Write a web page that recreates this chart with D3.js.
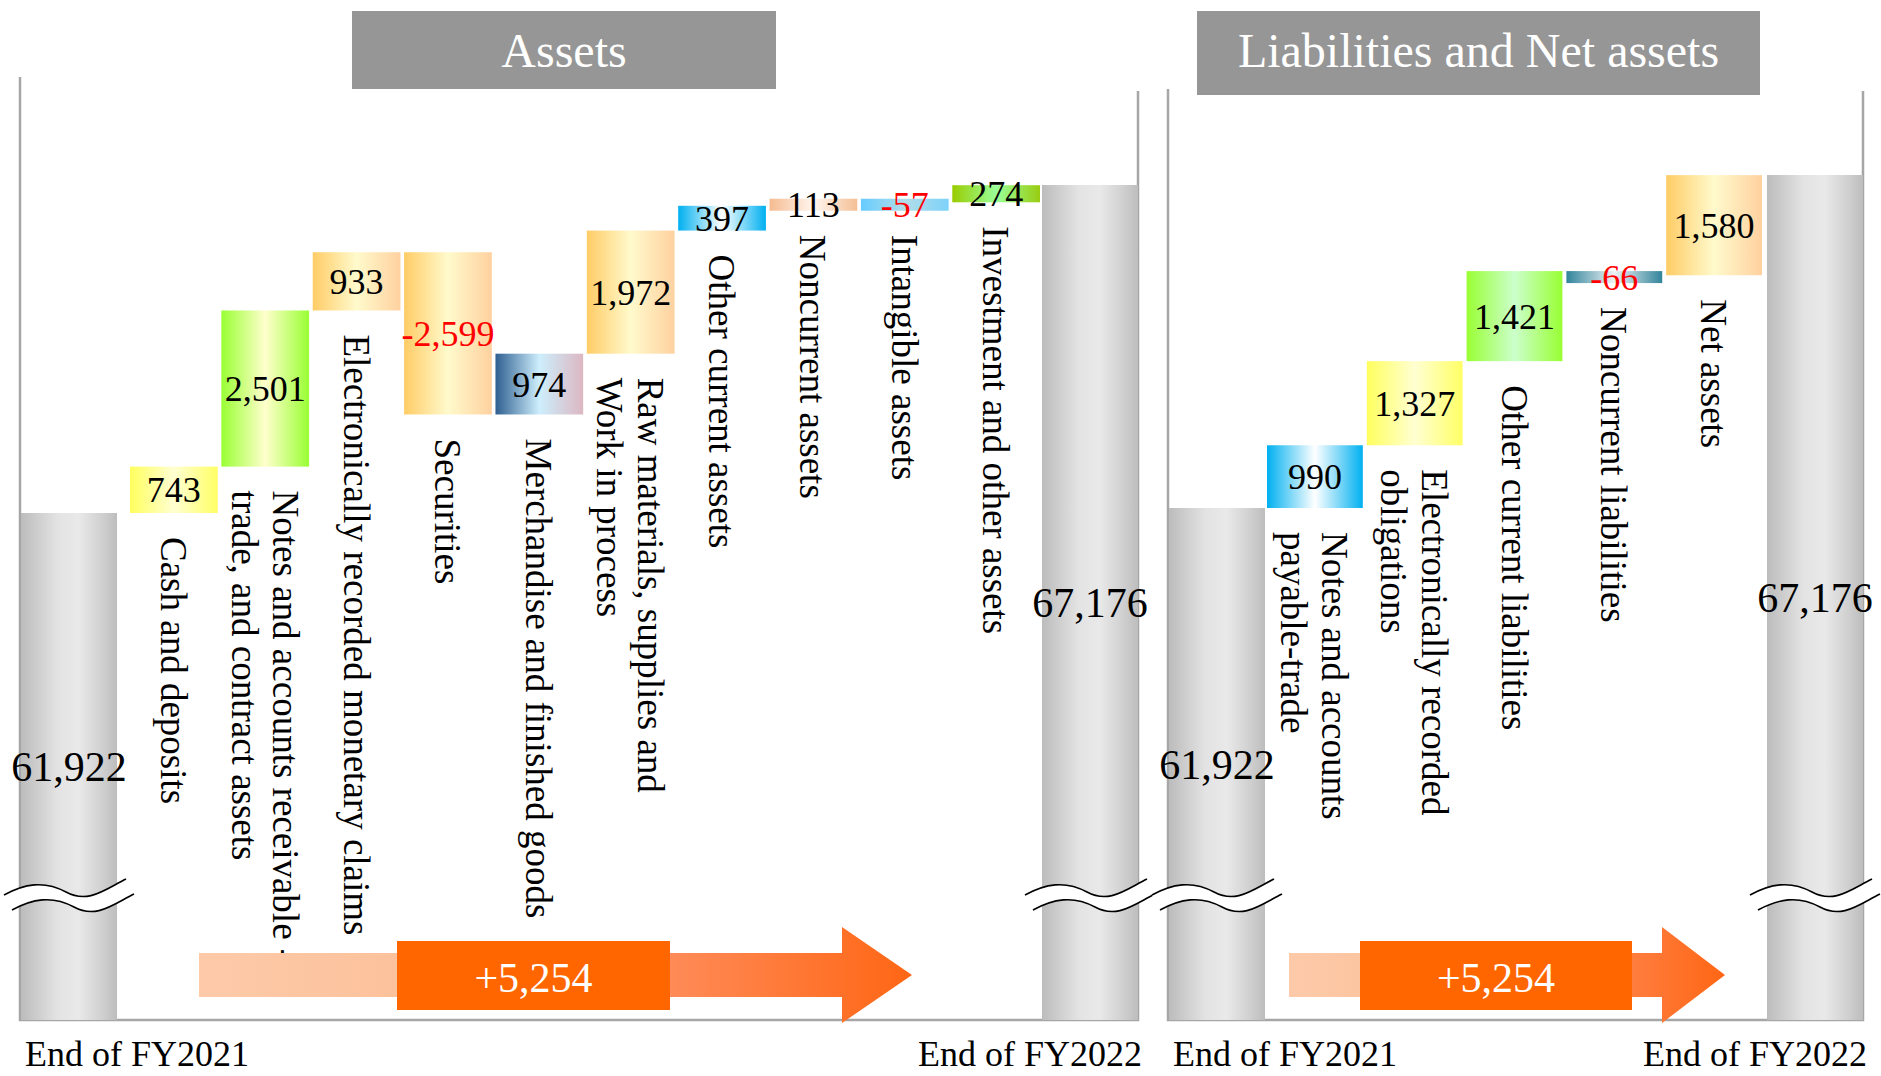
<!DOCTYPE html>
<html>
<head>
<meta charset="utf-8">
<script src="https://cdn.jsdelivr.net/npm/d3@7"></script>
<style>
  body { margin: 0; background: #fff; }
  svg { display: block; }
  text { font-family: "Liberation Serif", "Times New Roman", serif; }
</style>
</head>
<body>
<svg id="chart"></svg>
<script>
// ---- data (million yen) ----
const totals = [61922, 67176];
const totalChange = 5254;
const periodLabels = ["End of FY2021", "End of FY2022"];
const panelTitles = ["Assets", "Liabilities and Net assets"];

const assetLabels = [
  ["Cash and deposits"],
  ["Notes and accounts receivable -", "trade, and contract assets"],
  ["Electronically recorded monetary claims"],
  ["Securities"],
  ["Merchandise and finished goods"],
  ["Raw materials, supplies and", "Work in process"],
  ["Other current assets"],
  ["Noncurrent assets"],
  ["Intangible assets"],
  ["Investment and other assets"]
];
const assetChanges = [743, 2501, 933, -2599, 974, 1972, 397, 113, -57, 274];

const liabilityLabels = [
  ["Notes and accounts", "payable-trade"],
  ["Electronically recorded", "obligations"],
  ["Other current liabilities"],
  ["Noncurrent liabilities"],
  ["Net assets"]
];
const liabilityChanges = [990, 1327, 1421, -66, 1580];

// colour themes for the bars (horizontal gradients)
const palettes = {
  yellow: ["#ffff5e", "#ffffd2", "#ffff66"],
  green: ["#99ff33", "#ffffcc", "#99ff33"],
  gold: ["#ffcc66", "#fffacc", "#ffd19f"],
  navy: ["#2f5f91", "#cdeefc", "#dcb7c2"],
  cyan: ["#00b0f0", "#ffffff", "#00b0f0"],
  peach: ["#f5bb90", "#fff6f0", "#f5bf95"],
  sky: ["#66ccff", "#b2dde8", "#7dd2fa"],
  lime: ["#99cc00", "#99ff99", "#99cc11"],
  mint: ["#99ff33", "#ccffcc", "#99ff33"],
  teal: ["#31849b", "#eef3f5", "#31849b"]
};
const assetColors = ["yellow", "green", "gold", "gold", "navy", "gold", "cyan", "peach", "sky", "lime"];
const liabilityColors = ["cyan", "yellow", "mint", "teal", "gold"];

// ---- layout ----
const width = 1881, height = 1076;
const baseY = 1020;      // bottom frame line (broken axis)
const breakY = 898;
const totalW = 96;
const minBarH = 12;

const fmt = (v) => d3.format(',')(v).replace('\u2212', '-');

const panels = [
  {
    title: panelTitles[0], labels: assetLabels, changes: assetChanges, colors: assetColors,
    left: 20, right: 1138, leftTop: 77, rightTop: 91,
    band: [130, 1040], yRange: [513, 185],
    titleBox: { x0: 352, x1: 776, y0: 11, y1: 89 },
    arrow: { x0: 199, x1: 912, head: 70, box0: 397, box1: 670 }
  },
  {
    title: panelTitles[1], labels: liabilityLabels, changes: liabilityChanges, colors: liabilityColors,
    left: 1168, right: 1863, leftTop: 89, rightTop: 91,
    band: [1267, 1762], yRange: [508, 175],
    titleBox: { x0: 1197, x1: 1760, y0: 11, y1: 95 },
    arrow: { x0: 1289, x1: 1725, head: 63, box0: 1360, box1: 1632 }
  }
];

const svg = d3.select('#chart')
  .attr('width', width)
  .attr('height', height)
  .attr('viewBox', `0 0 ${width} ${height}`);

const defs = svg.append('defs');

function hGradient(id, stops) {
  const g = defs.append('linearGradient')
    .attr('id', id)
    .attr('x1', 0).attr('x2', 1).attr('y1', 0).attr('y2', 0);
  g.selectAll('stop')
    .data(stops)
    .join('stop')
    .attr('offset', (d) => d[0])
    .attr('stop-color', (d) => d[1]);
}

Object.entries(palettes).forEach(([name, c]) => {
  hGradient('g-' + name, [[0, c[0]], [0.5, c[1]], [1, c[2]]]);
});
hGradient('g-total', [[0, '#bcbcbc'], [0.38, '#e3e3e3'], [0.6, '#e9e9e9'], [0.85, '#cfcfcf'], [1, '#bdbdbd']]);
hGradient('g-arrow', [[0, '#fdcaa9'], [0.3, '#fcc19b'], [0.66, '#ff8b58'], [1, '#ff6614']]);

function waterfall(changes, start) {
  let level = start;
  return changes.map((v, i) => {
    const from = level;
    level += v;
    return { i, v, from, to: level };
  });
}

function breakSymbol(g, cx, cy) {
  // two wavy strokes with a white gap between them
  const w = 130;
  const x0 = cx - w / 2;
  const top = `M${x0},${cy - 3} C${x0 + 20},${cy - 14} ${x0 + 40},${cy - 18} ${x0 + 62},${cy - 6}` +
    ` S${x0 + 100},${cy - 8} ${x0 + 122},${cy - 19}`;
  const bot = `M${x0 + 8},${cy + 12} C${x0 + 28},${cy + 1} ${x0 + 48},${cy - 3} ${x0 + 70},${cy + 9}` +
    ` S${x0 + 108},${cy + 7} ${x0 + 130},${cy - 4}`;
  const fill = `M${x0},${cy - 3} C${x0 + 20},${cy - 14} ${x0 + 40},${cy - 18} ${x0 + 62},${cy - 6}` +
    ` S${x0 + 100},${cy - 8} ${x0 + 122},${cy - 19} L${x0 + 130},${cy - 4}` +
    ` C${x0 + 108},${cy + 7} ${x0 + 92},${cy + 21} ${x0 + 70},${cy + 9}` +
    ` S${x0 + 28},${cy + 1} ${x0 + 8},${cy + 12} Z`;
  g.append('path').attr('d', fill).attr('fill', '#fff');
  g.append('path').attr('d', top).attr('fill', 'none').attr('stroke', '#000').attr('stroke-width', 1.6);
  g.append('path').attr('d', bot).attr('fill', 'none').attr('stroke', '#000').attr('stroke-width', 1.6);
}

function renderPanel(p) {
  const g = svg.append('g');

  const x = d3.scaleBand()
    .domain(d3.range(p.changes.length))
    .range(p.band)
    .paddingInner(0.04);

  const y = d3.scaleLinear()
    .domain(totals)
    .range(p.yRange);

  // frame (open at the top)
  g.append('path')
    .attr('d', `M${p.left},${p.leftTop} V${baseY} H${p.right} V${p.rightTop}`)
    .attr('fill', 'none')
    .attr('stroke', '#a6a6a6')
    .attr('stroke-width', 2.5);

  // title box
  const tb = p.titleBox;
  g.append('rect')
    .attr('x', tb.x0).attr('y', tb.y0)
    .attr('width', tb.x1 - tb.x0).attr('height', tb.y1 - tb.y0)
    .attr('fill', '#969696');
  g.append('text')
    .attr('x', (tb.x0 + tb.x1) / 2)
    .attr('y', 67)
    .attr('text-anchor', 'middle')
    .attr('fill', '#fff')
    .attr('font-size', 48)
    .text(p.title);

  // start / end totals
  const totalBars = [
    { v: totals[0], x0: p.left + 1, label: periodLabels[0], anchor: 'start' },
    { v: totals[1], x0: p.right - totalW, label: periodLabels[1], anchor: 'end' }
  ];
  const tg = g.selectAll('g.total')
    .data(totalBars)
    .join('g')
    .attr('class', 'total');
  tg.append('rect')
    .attr('x', (d) => d.x0)
    .attr('y', (d) => y(d.v))
    .attr('width', totalW)
    .attr('height', (d) => baseY - y(d.v))
    .attr('fill', 'url(#g-total)');
  tg.each(function (d) {
    breakSymbol(d3.select(this), d.x0 + totalW / 2, breakY);
  });
  tg.append('text')
    .attr('x', (d) => d.x0 + totalW / 2)
    .attr('y', (d) => (y(d.v) + baseY) / 2)
    .attr('dy', '0.35em')
    .attr('text-anchor', 'middle')
    .attr('font-size', 42)
    .text((d) => fmt(d.v));
  tg.append('text')
    .attr('x', (d) => d.anchor === 'start' ? d.x0 + 4 : d.x0 + totalW + 4)
    .attr('y', 1066)
    .attr('text-anchor', (d) => d.anchor)
    .attr('font-size', 36)
    .text((d) => d.label);

  // waterfall steps
  const steps = waterfall(p.changes, totals[0]);
  const bars = g.selectAll('g.step')
    .data(steps)
    .join('g')
    .attr('class', 'step');

  const top = (d) => y(Math.max(d.from, d.to));
  const barH = (d) => Math.max(Math.abs(y(d.from) - y(d.to)), minBarH);

  bars.append('rect')
    .attr('x', (d) => x(d.i))
    .attr('y', top)
    .attr('width', x.bandwidth())
    .attr('height', barH)
    .attr('fill', (d) => `url(#g-${p.colors[d.i]})`);

  bars.append('text')
    .attr('x', (d) => x(d.i) + x.bandwidth() / 2)
    .attr('y', (d) => top(d) + barH(d) / 2)
    .attr('dy', '0.35em')
    .attr('text-anchor', 'middle')
    .attr('font-size', 36)
    .attr('fill', (d) => d.v < 0 ? '#ff0000' : '#000')
    .text((d) => fmt(d.v));

  // rotated category labels below each bar
  const lineGap = 41;
  bars.append('g')
    .attr('transform', (d) => `translate(${x(d.i) + x.bandwidth() / 2},${top(d) + barH(d) + 24}) rotate(90)`)
    .selectAll('text')
    .data((d) => p.labels[d.i].map((t, k, arr) => ({ t, k, n: arr.length })))
    .join('text')
    .attr('x', 0)
    .attr('y', (d) => (d.k - (d.n - 1) / 2) * lineGap)
    .attr('dy', '0.35em')
    .attr('font-size', 37)
    .text((d) => d.t);

  // change arrow
  const a = p.arrow;
  const cy = 975;
  const shaft = 22, headH = 48;
  g.append('path')
    .attr('d', `M${a.x0},${cy - shaft} H${a.x1 - a.head} V${cy - headH} L${a.x1},${cy}` +
      ` L${a.x1 - a.head},${cy + headH} V${cy + shaft} H${a.x0} Z`)
    .attr('fill', 'url(#g-arrow)');
  g.append('rect')
    .attr('x', a.box0).attr('y', cy - 34)
    .attr('width', a.box1 - a.box0).attr('height', 69)
    .attr('fill', '#ff6600');
  g.append('text')
    .attr('x', (a.box0 + a.box1) / 2)
    .attr('y', cy + 2)
    .attr('dy', '0.35em')
    .attr('text-anchor', 'middle')
    .attr('fill', '#fff')
    .attr('font-size', 42)
    .text('+' + fmt(totalChange));
}

panels.forEach(renderPanel);
</script>
</body>
</html>
